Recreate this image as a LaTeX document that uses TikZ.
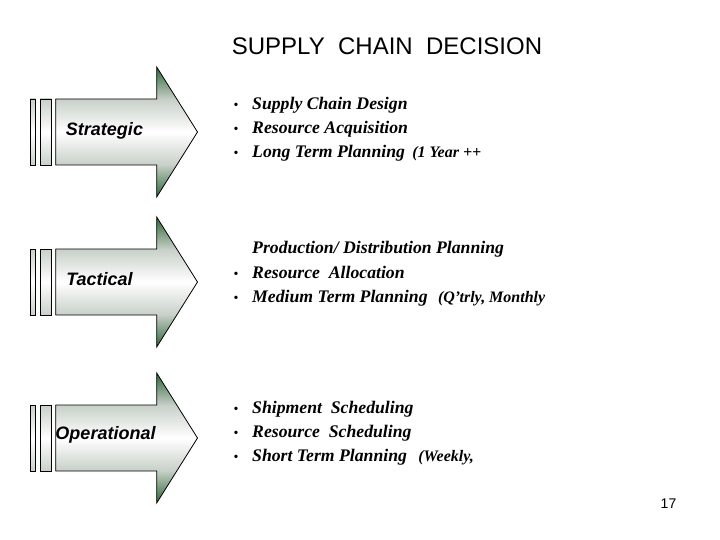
\documentclass[tikz,border=0pt]{standalone}
\usepackage{fontspec}
\setmainfont{Liberation Serif}
\newfontfamily\arialf{Liberation Sans}
\usetikzlibrary{shadings}
\definecolor{arrdk}{RGB}{46,104,58}
\definecolor{arrlt}{RGB}{200,208,200}
\pgfdeclareverticalshading{arrowsh}{100bp}{color(0bp)=(arrdk); color(25bp)=(arrdk); color(37.5bp)=(arrlt); color(50bp)=(white); color(62.5bp)=(arrlt); color(75bp)=(arrdk); color(100bp)=(arrdk)}
\tikzset{
  arrowbody/.style={draw=black, line width=0.8pt, shading=arrowsh},
  stripe/.style={draw=black, line width=0.8pt, top color=arrlt, bottom color=arrlt, middle color=white},
  levellabel/.style={font=\arialf\bfseries\itshape\fontsize{18}{20}\selectfont, inner sep=0pt},
  itemtext/.style={anchor=base west, inner sep=0pt, font=\bfseries\itshape\fontsize{17.7}{20}\selectfont},
  bul/.style={anchor=base, inner sep=0pt, font=\fontsize{14}{16}\selectfont},
  paren/.style={anchor=base west, inner sep=0pt, font=\bfseries\itshape\fontsize{16}{18}\selectfont},
}
\begin{document}
\begin{tikzpicture}[x=1pt,y=-1pt]
\useasboundingbox (0,0) rectangle (720,540);
% title
\node[font=\arialf\fontsize{24}{26}\selectfont, inner sep=0pt] (title) at (387,46) {SUPPLY\ \ CHAIN\ \ DECISION};
% arrows
\foreach \cy/\nm in {132/a, 282/b, 438/c}{
  \draw[stripe] (30,\cy-33) rectangle (35.7,\cy+33);
  \draw[stripe] (40,\cy-33) rectangle (51.7,\cy+33);
  \draw[arrowbody] (55.7,\cy-33) -- (156.7,\cy-33) -- (156.7,\cy-65) -- (197.5,\cy) -- (156.7,\cy+65) -- (156.7,\cy+33) -- (55.7,\cy+33) -- cycle;
}
\node[levellabel] (strategic) at (104.5,131) {Strategic};
\node[levellabel] (tactical) at (99.5,279) {Tactical};
\node[levellabel] (operational) at (105.5,435) {Operational};
% strategic items
\node[bul] (b1) at (236,110) {•};
\node[bul] (b2) at (236,134) {•};
\node[bul] (b3) at (236,158) {•};
\node[itemtext] (s1) at (252,110) {Supply Chain Design};
\node[itemtext] (s2) at (252,134) {Resource Acquisition};
\node[itemtext] (s3) at (252,158) {Long Term Planning};
\node[paren] (s3p) at ([xshift=7pt]s3.base east) {(1 Year ++};
% tactical items
\node[itemtext] (t1) at (252,254) {Production/ Distribution Planning};
\node[bul] (b4) at (236,278) {•};
\node[bul] (b5) at (236,302) {•};
\node[itemtext] (t2) at (252,278) {Resource\ \ Allocation};
\node[itemtext] (t3) at (252,302) {Medium Term Planning};
\node[paren] (t3p) at ([xshift=10pt]t3.base east) {(Q'trly, Monthly};
% operational items
\node[bul] (b6) at (236,413) {•};
\node[bul] (b7) at (236,437) {•};
\node[bul] (b8) at (236,461) {•};
\node[itemtext] (o1) at (252,413) {Shipment\ \ Scheduling};
\node[itemtext] (o2) at (252,437) {Resource\ \ Scheduling};
\node[itemtext] (o3) at (252,461) {Short Term Planning};
\node[paren] (o3p) at ([xshift=11pt]o3.base east) {(Weekly,};
% page number
\node[font=\arialf\fontsize{14}{16}\selectfont, inner sep=0pt] (pg) at (668.5,504) {17};
\end{tikzpicture}
\end{document}
